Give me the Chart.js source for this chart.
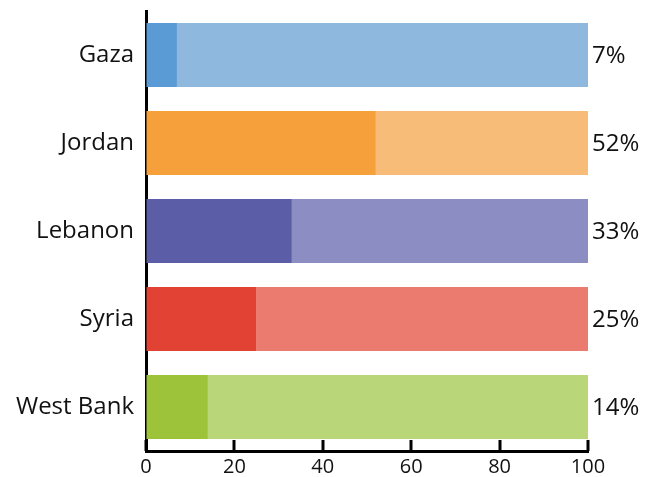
<!DOCTYPE html>
<html>
<head>
<meta charset="utf-8">
<script src="https://cdn.jsdelivr.net/npm/chart.js@4"></script>
<style>
  html, body { margin: 0; padding: 0; background: #fff; }
  #wrap { width: 657px; height: 477px; }
</style>
</head>
<body>
<div id="wrap"><canvas id="grafico"></canvas></div>
<script>
// Dados
const regioes = ['Gaza', 'Jordan', 'Lebanon', 'Syria', 'West Bank'];
const percentuais = [7, 52, 33, 25, 14];
const restante = [93, 48, 67, 75, 86];
const ticksX = [0, 20, 40, 60, 80, 100];

const coresFortes = ['#5b9bd5', '#f5a03a', '#5b5ea6', '#e14233', '#9dc33b'];
const coresClaras = ['#8eb8de', '#f7bd78', '#8c8dc2', '#eb7a6f', '#b9d778'];

const fonte = '"Open Sans", sans-serif';

// Plugin: rótulos de porcentagem e marcas do eixo x
const extras = {
    id: 'extras',
    afterDraw(chart) {
        const ctx = chart.ctx;
        const x = chart.scales.x;
        const y = chart.scales.y;
        ctx.save();
        ctx.fillStyle = '#111';
        ctx.font = '24px ' + fonte;
        ctx.textAlign = 'left';
        ctx.textBaseline = 'middle';
        percentuais.forEach((v, i) => {
            ctx.fillText(v + '%', x.getPixelForValue(100) + 4, y.getPixelForValue(i) + 1);
        });
        // marcas voltadas para cima
        ctx.strokeStyle = '#000';
        ctx.lineWidth = 3;
        ticksX.forEach(t => {
            const px = Math.round(x.getPixelForValue(t));
            ctx.beginPath();
            ctx.moveTo(px, x.top);
            ctx.lineTo(px, x.top - 11);
            ctx.stroke();
        });
        ctx.restore();
    }
};

const config = {
    type: 'bar',
    data: {
        labels: regioes,
        datasets: [{
            data: percentuais,
            backgroundColor: coresFortes,
            borderWidth: 0,
            barPercentage: 0.73,
            categoryPercentage: 1
        }, {
            data: restante,
            backgroundColor: coresClaras,
            borderWidth: 0,
            barPercentage: 0.73,
            categoryPercentage: 1
        }]
    },
    options: {
        indexAxis: 'y',
        responsive: true,
        maintainAspectRatio: false,
        animation: false,
        layout: { padding: { top: 11, right: 69, left: 0, bottom: 0 } },
        plugins: { legend: { display: false }, tooltip: { enabled: false } },
        scales: {
            x: {
                stacked: true,
                min: 0,
                max: 100,
                afterBuildTicks: s => { s.ticks = ticksX.map(v => ({ value: v })); },
                afterFit: s => { s.height = 26; s.paddingLeft = 0; s.paddingRight = 0; },
                grid: { display: true, drawOnChartArea: false, drawTicks: false },
                border: { display: true, color: '#000', width: 3 },
                ticks: { padding: 4, color: '#111', font: { family: fonte, size: 20 } }
            },
            y: {
                stacked: true,
                afterFit: s => { s.width = 146; s.paddingTop = 0; s.paddingBottom = 0; },
                grid: { display: false, drawTicks: false },
                border: { display: true, color: '#000', width: 3 },
                ticks: { padding: 12, color: '#111', font: { family: fonte, size: 24 } }
            }
        }
    },
    plugins: [extras]
};

new Chart(document.getElementById('grafico'), config);
</script>
</body>
</html>
